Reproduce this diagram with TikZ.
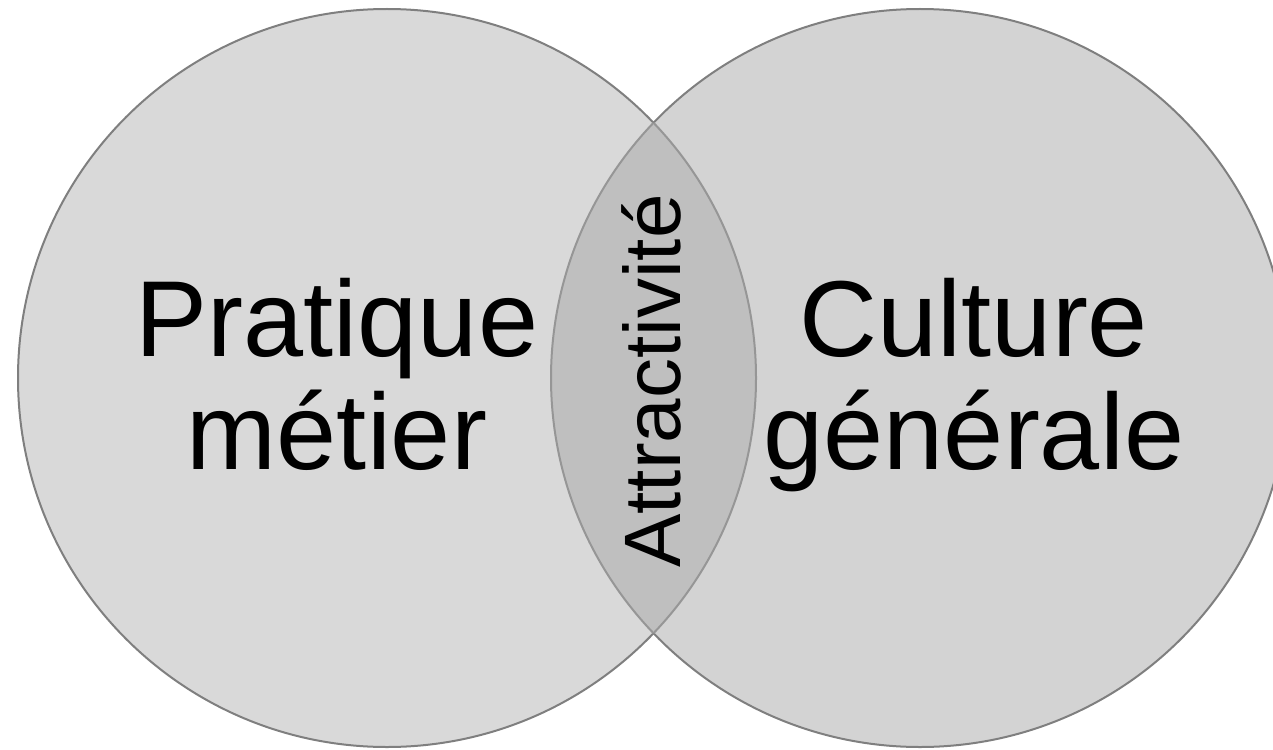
\documentclass[tikz,border=0pt]{standalone}
\usepackage{fontspec}
\setmainfont{Liberation Sans}
\definecolor{leftfill}{HTML}{D9D9D9}
\definecolor{rightfill}{HTML}{D3D3D3}
\definecolor{lensfill}{HTML}{BFBFBF}
\definecolor{edge}{HTML}{7F7F7F}
\definecolor{lensedge}{HTML}{969696}
\tikzset{
  ring/.style={line width=2pt, draw=edge},
  bigtext/.style={align=center, font=\fontsize{108}{113}\selectfont, inner sep=0pt},
  lenstext/.style={font=\fontsize{80}{84}\selectfont, inner sep=0pt, rotate=90}
}
\begin{document}
\begin{tikzpicture}[x=1pt,y=-1pt]
\useasboundingbox (0,0) rectangle (1273,749);
\clip (0,0) rectangle (1273,749);
\coordinate (cl) at (387,378);
\coordinate (cr) at (920,378);
\fill[leftfill] (cl) circle[radius=369];
\fill[rightfill] (cr) circle[radius=369];
\begin{scope}
  \clip (cl) circle[radius=369];
  \fill[lensfill] (cr) circle[radius=369];
\end{scope}
% outer outlines
\begin{scope}
  \clip (0,0) rectangle (1273,749) (cr) circle[radius=369];
  \draw[ring] (cl) circle[radius=369];
\end{scope}
\begin{scope}
  \clip (0,0) rectangle (1273,749) (cl) circle[radius=369];
  \draw[ring] (cr) circle[radius=369];
\end{scope}
% lens outlines
\begin{scope}
  \clip (cr) circle[radius=369];
  \draw[line width=2pt, draw=lensedge] (cl) circle[radius=369];
\end{scope}
\begin{scope}
  \clip (cl) circle[radius=369];
  \draw[line width=2pt, draw=lensedge] (cr) circle[radius=369];
\end{scope}
\node[bigtext, anchor=base] (pm) at (337,469) {Pratique\\métier};
\node[bigtext, anchor=base] (cg) at (974,469) {Culture\\générale};
\node[lenstext, anchor=base] (at) at (680,381) {Attractivité};
\end{tikzpicture}
\end{document}
